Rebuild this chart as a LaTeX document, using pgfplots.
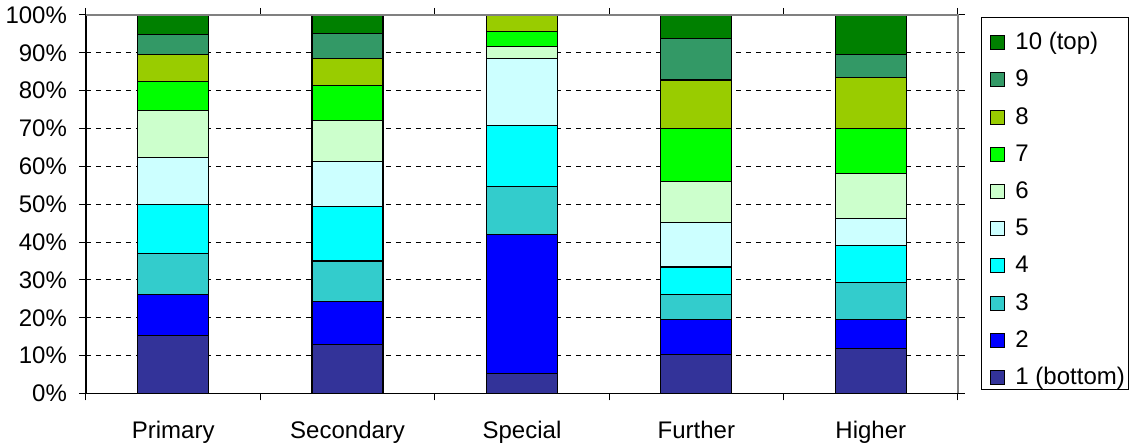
\documentclass[border=0pt]{standalone}
\usepackage{pgfplots}
\pgfplotsset{compat=1.18}
\usepackage{fontspec}
\setmainfont{Liberation Sans}

% band colours, bottom (1) to top (10)
\definecolor{b1}{HTML}{333399}
\definecolor{b2}{HTML}{0000FF}
\definecolor{b3}{HTML}{33CCCC}
\definecolor{b4}{HTML}{00FFFF}
\definecolor{b5}{HTML}{CCFFFF}
\definecolor{b6}{HTML}{CCFFCC}
\definecolor{b7}{HTML}{00FF00}
\definecolor{b8}{HTML}{99CC00}
\definecolor{b9}{HTML}{339966}
\definecolor{b10}{HTML}{008000}
\definecolor{frame}{HTML}{808080}

\newcommand{\lblfont}{\fontsize{12}{14.4}\selectfont}

\begin{document}
\begin{tikzpicture}
\begin{axis}[
  at={(0,0)}, anchor=south west,
  scale only axis, width=436pt, height=189.25pt,
  clip=false,
  ybar stacked, bar width=35.5pt,
  xmin=-0.5, xmax=4.5, ymin=0, ymax=100,
  xtick={-0.5,0.5,1.5,2.5,3.5,4.5}, xticklabels={},
  extra x ticks={0,1,2,3,4},
  extra x tick labels={Primary,Secondary,Special,Further,Higher},
  extra x tick style={major tick length=0pt,
    xticklabel style={yshift=-10.5pt}},
  ytick={0,10,...,100},
  yticklabels={0\%,10\%,20\%,30\%,40\%,50\%,60\%,70\%,80\%,90\%,100\%},
  yticklabel style={xshift=-2.5pt},
  tick align=outside, major tick length=3.5pt,
  tick style={black, line width=0.5pt},
  tick label style={font=\lblfont},
  ymajorgrids,
  grid style={black, line width=0.5pt, dash pattern=on 2.5pt off 2.5pt},
  axis line style={draw=none},
  every axis plot/.append style={draw=black, line width=0.6pt},
  legend image code/.code={\draw[#1, line width=0.5pt] (0pt,-3pt) rectangle (7pt,4pt);},
  reverse legend,
  legend cell align=left,
  legend style={draw=none, fill=none, at={(1.0367,0.9561)}, anchor=north west,
    inner sep=0pt, outer sep=0pt, row sep=6.6pt, font=\lblfont,
    nodes={inner sep=0pt, text height=9pt, text depth=3pt},
    /tikz/every odd column/.append style={column sep=5.25pt}},
]
% plot-area frame: grey top and right edges
\draw[frame, line width=0.6pt] (rel axis cs:0,1) -- (rel axis cs:1,1) -- (rel axis cs:1,0);

% shares (%) per sector: Primary, Secondary, Special, Further, Higher
\addplot[fill=b1]  coordinates {(0,15.4) (1,12.9) (2,5.2)  (3,10.2) (4,11.8)};
\addplot[fill=b2]  coordinates {(0,10.8) (1,11.3) (2,36.9) (3,9.3)  (4,7.8)};
\addplot[fill=b3]  coordinates {(0,10.8) (1,10.8) (2,12.5) (3,6.7)  (4,9.8)};
\addplot[fill=b4]  coordinates {(0,13.0) (1,14.4) (2,16.3) (3,7.2)  (4,9.8)};
\addplot[fill=b5]  coordinates {(0,12.3) (1,11.8) (2,17.7) (3,11.8) (4,7.1)};
\addplot[fill=b6]  coordinates {(0,12.4) (1,10.9) (2,3.0)  (3,10.9) (4,11.9)};
\addplot[fill=b7]  coordinates {(0,7.7)  (1,9.2)  (2,4.1)  (3,14.0) (4,11.9)};
\addplot[fill=b8]  coordinates {(0,7.1)  (1,7.2)  (2,4.3)  (3,12.7) (4,13.3)};
\addplot[fill=b9]  coordinates {(0,5.3)  (1,6.7)  (2,0)    (3,10.9) (4,6.2)};
\addplot[fill=b10] coordinates {(0,5.2)  (1,4.8)  (2,0)    (3,6.3)  (4,10.4)};
\legend{1 (bottom),2,3,4,5,6,7,8,9,10 (top)}

% value and category axes
\draw[black, line width=0.6pt] (rel axis cs:0,1) -- (rel axis cs:0,0) -- (rel axis cs:1,0);
% legend frame
\draw[black, line width=0.5pt] (rel axis cs:1.0264,0.9929) rectangle (rel axis cs:1.1950,0.0098);
\end{axis}
\pgfresetboundingbox
\useasboundingbox (-43pt,-25.25pt) rectangle (523pt,196.75pt);
\end{tikzpicture}
\end{document}
